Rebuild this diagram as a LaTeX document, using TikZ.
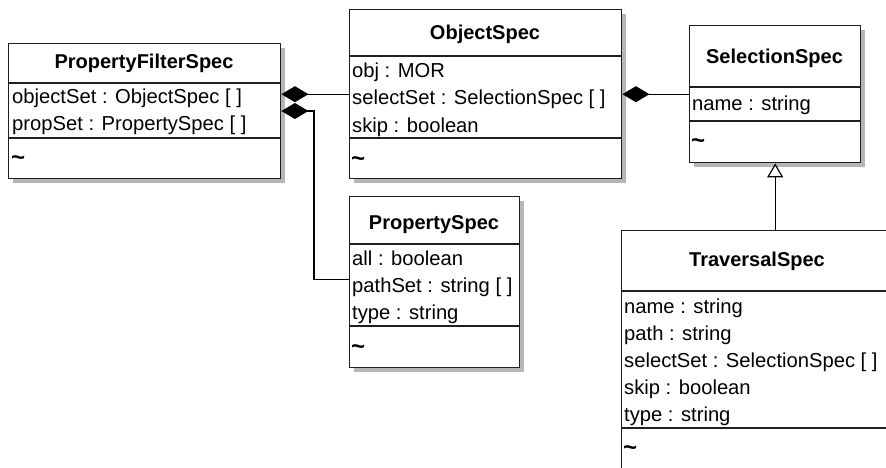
\documentclass[tikz,border=0pt]{standalone}
\usepackage{fontspec}
\setmainfont{Liberation Sans}
\usetikzlibrary{arrows.meta}
\definecolor{shadowgray}{HTML}{B6B6B6}
\begin{document}
\begin{tikzpicture}[x=1pt,y=-1pt,
  cls/.style={draw=black!88, line width=1.4pt, fill=white, anchor=north west, inner sep=0pt},
  shd/.style={fill=shadowgray, draw=none, anchor=north west, inner sep=0pt},
  ttl/.style={font=\fontsize{20}{24}\selectfont\bfseries, anchor=base, inner sep=0pt},
  att/.style={font=\fontsize{20.2}{24}\selectfont, anchor=base west, inner sep=0pt},
  til/.style={font=\fontsize{24}{26}\selectfont\bfseries, anchor=base west, inner sep=0pt},
  sep/.style={line width=1.2pt, draw=black!88},
  comp/.style={line width=1.2pt, -{Diamond[length=27pt,width=16pt,fill=black]}},
  inh/.style={line width=1.2pt, -{Triangle[open,length=14pt,width=16pt,fill=white]}}]
\useasboundingbox (0,0) rectangle (886,468);
\clip (0,0) rectangle (886,468);
\fill[white] (0,0) rectangle (886,468);

% shadows
\node[shd, minimum width=272pt, minimum height=135pt] (pfsS) at (13,48) {};
\node[shd, minimum width=272pt, minimum height=169pt] (osS) at (354,14) {};
\node[shd, minimum width=171pt, minimum height=137pt] (ssS) at (694,30) {};
\node[shd, minimum width=170pt, minimum height=171pt] (psS) at (354,201) {};
\node[shd, minimum width=272pt, minimum height=290pt] (tsS) at (626,235) {};

% class boxes
\node[cls, minimum width=272pt, minimum height=135pt] (pfs) at (8,43) {};
\node[cls, minimum width=272pt, minimum height=169pt] (os) at (349,9) {};
\node[cls, minimum width=171pt, minimum height=137pt] (ss) at (689,25) {};
\node[cls, minimum width=170pt, minimum height=171pt] (ps) at (349,196) {};
\node[cls, minimum width=272pt, minimum height=290pt] (ts) at (621,230) {};

% connectors
\draw[comp] (os.west) -- (os.west -| pfs.east);
\draw[comp] ([yshift=2.5pt]ps.west) -- ++(-35,0) |- ([yshift=-68pt]pfs.north east);
\draw[comp] (ss.west) -- (ss.west -| os.east);
\draw[inh] (ss.south |- ts.north) -- (ss.south);

% compartments
\draw[sep] (8,83) -- (280,83) (8,138) -- (280,138);
\draw[sep] (349,56) -- (621,56) (349,138) -- (621,138);
\draw[sep] (689,87) -- (860,87) (689,121) -- (860,121);
\draw[sep] (349,244) -- (519,244) (349,326) -- (519,326);
\draw[sep] (621,291) -- (893,291) (621,428) -- (893,428);

% PropertyFilterSpec
\node[ttl] (pfsT) at (144,69) {PropertyFilterSpec};
\node[att] (pfsA1) at (12,104) {objectSet : ObjectSpec [ ]};
\node[att] (pfsA2) at (12,131) {propSet : PropertySpec [ ]};
\node[til] (pfsO) at (11,165) {\textasciitilde};

% ObjectSpec
\node[ttl] (osT) at (485,40) {ObjectSpec};
\node[att] (osA1) at (352,78) {obj : MOR};
\node[att] (osA2) at (352,105) {selectSet : SelectionSpec [ ]};
\node[att] (osA3) at (352,132) {skip : boolean};
\node[til] (osO) at (351,166) {\textasciitilde};

% SelectionSpec
\node[ttl] (ssT) at (774.5,64) {SelectionSpec};
\node[att] (ssA1) at (692,111) {name : string};
\node[til] (ssO) at (691,149) {\textasciitilde};

% PropertySpec
\node[ttl] (psT) at (434,229) {PropertySpec};
\node[att] (psA1) at (352,265) {all : boolean};
\node[att] (psA2) at (352,292) {pathSet : string [ ]};
\node[att] (psA3) at (352,319) {type : string};
\node[til] (psO) at (351,354) {\textasciitilde};

% TraversalSpec
\node[ttl] (tsT) at (757,266) {TraversalSpec};
\node[att] (tsA1) at (624,313) {name : string};
\node[att] (tsA2) at (624,340) {path : string};
\node[att] (tsA3) at (624,367) {selectSet : SelectionSpec [ ]};
\node[att] (tsA4) at (624,394) {skip : boolean};
\node[att] (tsA5) at (624,421) {type : string};
\node[til] (tsO) at (623,455) {\textasciitilde};
\end{tikzpicture}
\end{document}
